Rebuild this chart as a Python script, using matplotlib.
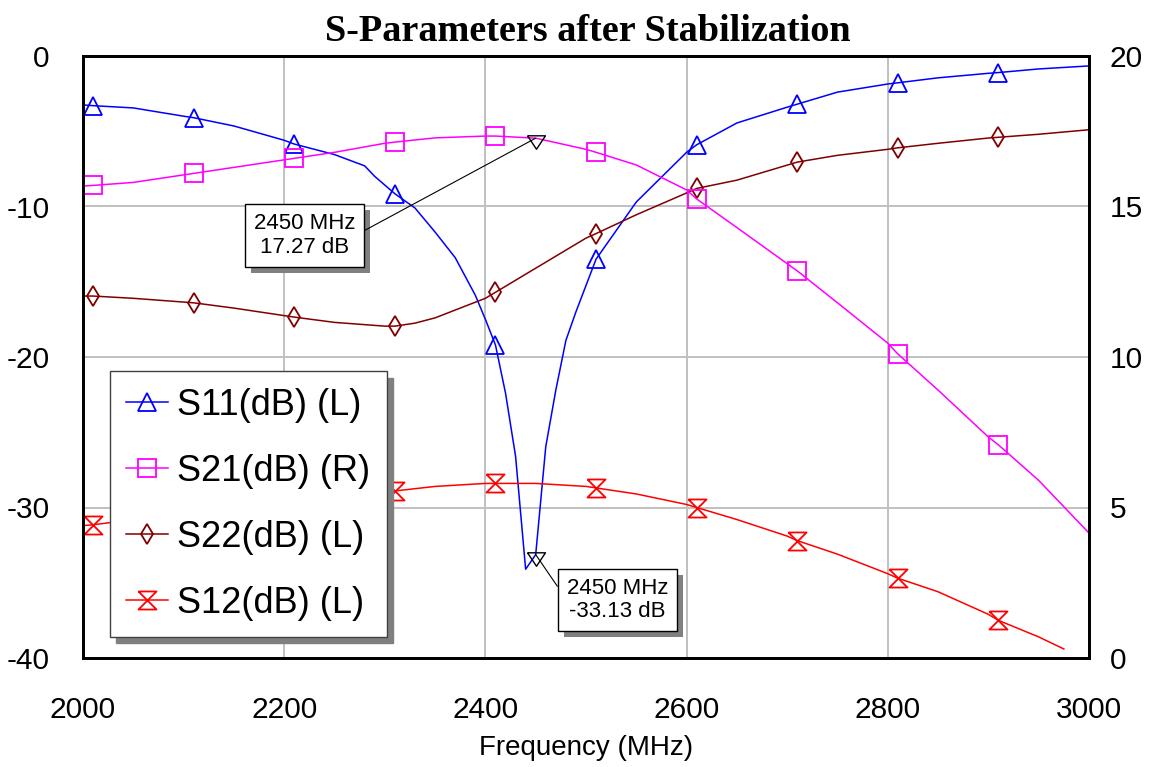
import numpy as np
import matplotlib
matplotlib.use("Agg")
import matplotlib.pyplot as plt
from matplotlib.patches import Rectangle
from matplotlib.transforms import IdentityTransform

plt.rcParams['font.family'] = ['Liberation Sans', 'DejaVu Sans']
plt.rcParams['axes.unicode_minus'] = False

# ---- S11 (left axis, dB)
f_s11 = [2000, 2010, 2050, 2100, 2110, 2150, 2200, 2210, 2250, 2280, 2290, 2310,
         2330, 2350, 2370, 2390, 2400, 2410, 2420, 2430, 2440, 2450, 2460, 2470,
         2480, 2490, 2510, 2550, 2600, 2610, 2650, 2700, 2710, 2750, 2800, 2810,
         2850, 2900, 2910, 2950, 3000]
s11 = [-3.25, -3.3, -3.45, -4.0, -4.1, -4.65, -5.6, -5.85, -6.55, -7.3, -8.0, -9.15,
       -10.1, -11.7, -13.4, -15.9, -17.5, -19.2, -22.4, -26.6, -34.1, -33.13, -25.96, -22.2,
       -18.9, -17.0, -13.5, -9.7, -6.4, -5.9, -4.45, -3.4, -3.2, -2.4, -1.86, -1.78,
       -1.45, -1.15, -1.1, -0.86, -0.66]

# ---- S21 (right axis, dB)
f_s21 = [2000, 2010, 2050, 2100, 2110, 2150, 2200, 2210, 2250, 2300, 2310, 2350,
         2400, 2410, 2450, 2500, 2510, 2550, 2600, 2610, 2650, 2700, 2710, 2750,
         2800, 2810, 2850, 2900, 2910, 2950, 3000]
s21 = [15.68, 15.7, 15.8, 16.05, 16.1, 16.3, 16.55, 16.6, 16.8, 17.1, 17.14, 17.28,
       17.34, 17.34, 17.27, 16.9, 16.8, 16.38, 15.55, 15.25, 14.3, 13.1, 12.86, 11.8,
       10.46, 10.1, 8.9, 7.34, 7.08, 5.9, 4.15]

# ---- S22 (left axis, dB)
f_s22 = [2000, 2010, 2050, 2100, 2110, 2150, 2200, 2210, 2250, 2300, 2310, 2330,
         2350, 2400, 2410, 2450, 2500, 2510, 2550, 2600, 2610, 2650, 2700, 2710,
         2750, 2800, 2810, 2850, 2900, 2910, 2950, 3000]
s22 = [-15.95, -15.95, -16.1, -16.35, -16.4, -16.75, -17.25, -17.35, -17.7, -17.95, -17.95, -17.75,
       -17.4, -16.1, -15.7, -14.1, -12.1, -11.8, -10.55, -9.1, -8.8, -8.25, -7.25, -7.05,
       -6.6, -6.2, -6.1, -5.8, -5.45, -5.4, -5.2, -4.9]

# ---- S12 (left axis, dB)
f_s12 = [2000, 2010, 2050, 2100, 2110, 2150, 2200, 2210, 2250, 2300, 2310, 2350,
         2400, 2410, 2450, 2500, 2510, 2550, 2600, 2610, 2650, 2700, 2710, 2750,
         2800, 2810, 2850, 2900, 2910, 2950, 2975]
s12 = [-31.2, -31.15, -30.8, -30.3, -30.2, -29.8, -29.4, -29.35, -29.1, -28.95, -28.9, -28.6,
       -28.4, -28.4, -28.4, -28.6, -28.7, -29.1, -29.8, -30.0, -30.8, -31.9, -32.2, -33.1,
       -34.4, -34.7, -35.6, -37.1, -37.5, -38.6, -39.4]

# marker readouts
mark_f = 2450
mark_s21 = 17.27
mark_s11 = -33.13

left_ticks = [0, -10, -20, -30, -40]
right_ticks = [20, 15, 10, 5, 0]
x_ticks = [2000, 2200, 2400, 2600, 2800, 3000]


def marks(freqs):
    return [i for i, f in enumerate(freqs) if f % 100 == 10]


hourglass = [(-1, 1), (1, 1), (-1, -1), (1, -1), (-1, 1)]
marker_tri = [(-1, 0.3), (1, 0.3), (0, -1.2), (-1, 0.3)]

fig = plt.figure(figsize=(11.64, 7.67), dpi=100)
ax = fig.add_axes([83 / 1164, 1 - 658 / 767, 1006 / 1164, 602 / 767])
ax2 = ax.twinx()

lw = 1.1
l11, = ax.plot(f_s11, s11, color='#0000ff', lw=lw, marker='^', ms=13, mfc='none',
               mew=1.3, markevery=marks(f_s11), label='S11(dB) (L)')
l21, = ax2.plot(f_s21, s21, color='#ff00ff', lw=lw, marker='s', ms=13, mfc='none',
                mew=1.3, markevery=marks(f_s21), label='S21(dB) (R)')
l22, = ax.plot(f_s22, s22, color='#800000', lw=lw, marker='d', ms=10.5, mfc='none',
               mew=1.3, markevery=marks(f_s22), label='S22(dB) (L)')
l12, = ax.plot(f_s12, s12, color='#ff0000', lw=lw, marker=hourglass, ms=13, mfc='none',
               mew=1.3, markevery=marks(f_s12), label='S12(dB) (L)')

ax.set_xlim(2000, 3000)
ax.set_ylim(-40, 0)
ax2.set_ylim(0, 20)
ax.set_xticks(x_ticks)
ax.set_yticks(left_ticks)
ax2.set_yticks(right_ticks)
ax.grid(True, color='#c0c0c0', lw=1.4)
ax.set_axisbelow(True)
ax.tick_params(axis='both', length=0, labelsize=21.5)
ax.tick_params(axis='y', pad=24)
ax.tick_params(axis='x', pad=27)
ax2.tick_params(axis='y', length=0, labelsize=21.5, pad=15)
for a in (ax, ax2):
    for sp in a.spines.values():
        sp.set_linewidth(2.0)
ax.set_xlabel('Frequency (MHz)', fontsize=20, labelpad=8)

fig.suptitle('S-Parameters after Stabilization', family=['Liberation Serif'],
             fontweight='bold', fontsize=27.5, x=0.505, y=0.982)

# marker readouts
ax2.plot([mark_f], [mark_s21], marker=marker_tri, ms=15.5, mfc='none', mec='black',
         mew=1.0, ls='none', zorder=5)
ax.plot([mark_f], [mark_s11], marker=marker_tri, ms=15.5, mfc='none', mec='black',
        mew=1.0, ls='none', zorder=5)


def readout(axis, y, center, relpos):
    txt = f'{mark_f} MHz\n{y:.2f} dB'
    box = dict(boxstyle='square,pad=0.4', fc='white', ec='black', lw=1.0)
    return axis.annotate(txt, xy=(mark_f, y), xytext=center, textcoords='figure pixels',
                         ha='center', va='center', fontsize=16, linespacing=1.15,
                         bbox=box, zorder=7,
                         arrowprops=dict(arrowstyle='-', color='black', lw=0.8,
                                         shrinkA=0, shrinkB=0, relpos=relpos))


ann1 = readout(ax2, mark_s21, (304.5, 767 - 235.5), (1, 0.5))
ann2 = readout(ax, mark_s11, (617.5, 767 - 600), (0, 0.5))

leg = ax2.legend(handles=[l11, l21, l22, l12], loc='lower left',
                 bbox_to_anchor=(0.0268, 0.0349), borderaxespad=0, fontsize=26,
                 handlelength=1.16, handletextpad=0.25, borderpad=0.45,
                 labelspacing=0.86, fancybox=False, framealpha=1,
                 edgecolor='#404040',
                 shadow={'ox': 4.5, 'oy': -4.5, 'color': '#808080', 'alpha': 1})
leg.get_frame().set_linewidth(1.0)
leg.set_zorder(10)

# grey drop shadows behind the readout boxes
fig.canvas.draw()
for a, ann in ((ax2, ann1), (ax, ann2)):
    bb = ann.get_bbox_patch().get_window_extent()
    a.add_patch(Rectangle((bb.x0 + 6, bb.y0 - 6), bb.width, bb.height,
                          transform=IdentityTransform(), fc='#808080', ec='none',
                          zorder=6.5, clip_on=False))

fig.savefig('out.png', dpi=100)
